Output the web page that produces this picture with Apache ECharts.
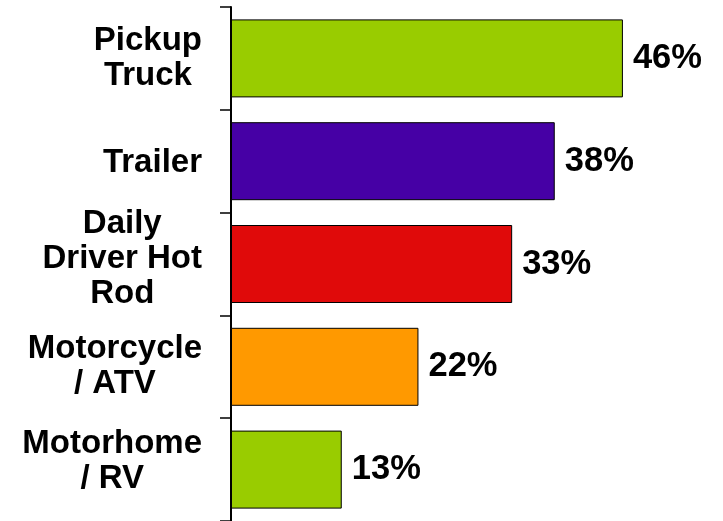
<!DOCTYPE html>
<html>
<head>
<meta charset="utf-8">
<script src="https://cdn.jsdelivr.net/npm/echarts@6/dist/echarts.min.js"></script>
<style>
html,body{margin:0;padding:0;background:#fff;}
#chart{width:723px;height:521px;}
</style>
</head>
<body>
<div id="chart"></div>
<script>
var categories = ["Pickup\nTruck", "Trailer", "Daily\nDriver Hot\nRod", "Motorcycle\n/ ATV", "Motorhome\n/ RV"];
var values = [46, 38, 33, 22, 13];
var barColors = ["#99CC00", "#4600A5", "#E00A0A", "#FF9900", "#99CC00"];

var FONT = "'Liberation Sans', Arial, sans-serif";
// small vertical nudges of the category labels (positive = up), done with an invisible spacer line
var lift = [0, -2, 5, 0, 8];
var rich = {
  c: { fontSize: 33, fontWeight: 'bold', fontFamily: FONT, color: '#000', lineHeight: 35, align: 'center' }
};
lift.forEach(function (l, i) {
  rich['s' + i] = { fontSize: 1, lineHeight: Math.max(1, 2 * Math.abs(l)), color: 'rgba(0,0,0,0)' };
});

var chart = echarts.init(document.getElementById('chart'));
chart.setOption({
  animation: false,
  backgroundColor: '#ffffff',
  grid: { left: 231, right: 66, top: 7, bottom: -1, containLabel: false },
  xAxis: {
    type: 'value', min: 0, max: 50,
    show: false,
    splitLine: { show: false }
  },
  yAxis: {
    type: 'category',
    inverse: true,
    data: categories,
    axisLine: { show: true, lineStyle: { color: '#000', width: 2 } },
    axisTick: { show: true, length: 11, lineStyle: { color: '#000', width: 1.5 } },
    axisLabel: {
      margin: 29,
      formatter: function (v, idx) {
        var out = v.split('\n').map(function (l) { return '{c|' + l + '}'; });
        if (lift[idx] > 0) out.push('{s' + idx + '| }');
        if (lift[idx] < 0) out.unshift('{s' + idx + '| }');
        return out.join('\n');
      },
      rich: rich
    }
  },
  series: [{
    type: 'bar',
    barWidth: 78,
    data: values.map(function (v, i) {
      return { value: v, itemStyle: { color: barColors[i] } };
    }),
    itemStyle: { borderColor: '#000', borderWidth: 1 },
    label: {
      show: true,
      position: 'right',
      distance: 10,
      formatter: '{c}%',
      fontSize: 34.5,
      fontWeight: 'bold',
      fontFamily: FONT,
      color: '#000'
    }
  }]
});
</script>
</body>
</html>
